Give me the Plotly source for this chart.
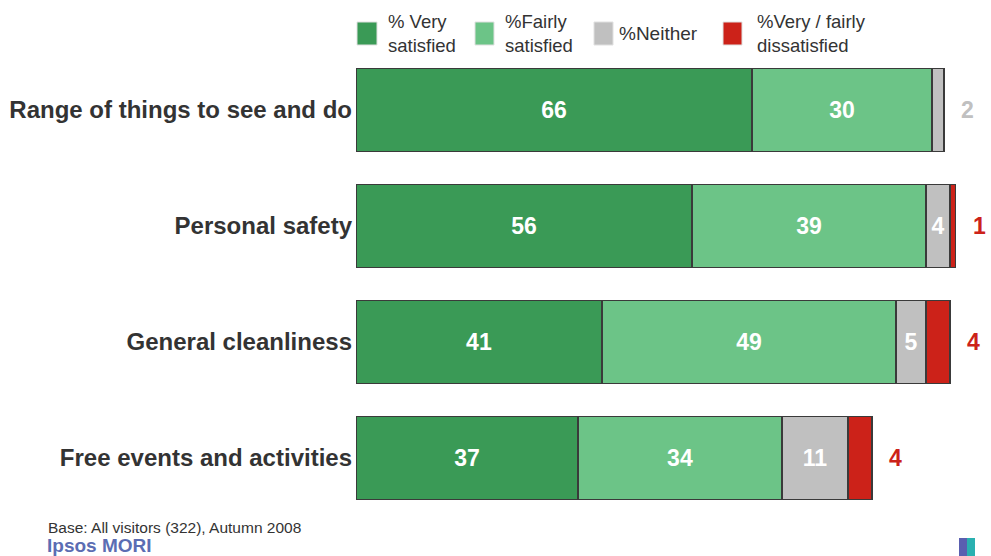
import plotly.graph_objects as go

categories = ["Range of things to see and do", "Personal safety", "General cleanliness", "Free events and activities"]
very_satisfied = [66, 56, 41, 37]
fairly_satisfied = [30, 39, 49, 34]
neither = [2, 4, 5, 11]
dissatisfied = [0, 1, 4, 4]
neither_inside_labels = ["", "4", "5", "11"]
outside_labels = ["2", "1", "4", "4"]
outside_colors = ["#c0c0c0", "#cc2219", "#cc2219", "#cc2219"]
legend_names = [["% Very", "satisfied"], ["%Fairly", "satisfied"], ["%Neither"], ["%Very / fairly", "dissatisfied"]]

colors = ["#3a9a56", "#6cc487", "#c0c0c0", "#cc2219"]
FONT = "Liberation Sans, Arial, sans-serif"

W, H = 991, 556
ML, MR, MT, MB = 356, 35, 52, 40
PW, PH = W - ML - MR, H - MT - MB

def px(x):
    return (x - ML) / PW

def py(y):
    return 1 - (y - MT) / PH

fig = go.Figure()
series = [very_satisfied, fairly_satisfied, neither, dissatisfied]
texts = [[str(v) for v in very_satisfied], [str(v) for v in fairly_satisfied], neither_inside_labels, [""] * 4]
for i, (vals, txt) in enumerate(zip(series, texts)):
    fig.add_trace(go.Bar(
        y=categories, x=vals, orientation="h", name=" ".join(legend_names[i]),
        marker=dict(color=colors[i], line=dict(color="#3a3a3a", width=1.2)),
        text=txt, textposition="inside", insidetextanchor="middle",
        textfont=dict(family=FONT, size=23, color="white", weight="bold"),
        width=0.72, showlegend=False, hoverinfo="skip", constraintext="none",
    ))

totals = [a + b + c + d for a, b, c, d in zip(very_satisfied, fairly_satisfied, neither, dissatisfied)]
for cat, tot, lab, col in zip(categories, totals, outside_labels, outside_colors):
    fig.add_annotation(x=tot, y=cat, xref="x", yref="y", text=f"<b>{lab}</b>", showarrow=False,
                       xshift=23, font=dict(family=FONT, size=23, color=col))

# Manual legend
leg_sq = [(357, 377), (475, 494), (594, 613), (723, 742)]
leg_tx = [386, 503, 617, 755]
for (x0, x1), tx, names, col in zip(leg_sq, leg_tx, legend_names, colors):
    fig.add_shape(type="rect", xref="paper", yref="paper", x0=px(x0), x1=px(x1), y0=py(45), y1=py(22),
                  fillcolor=col, line=dict(color="#e0e0e0", width=1))
    fig.add_annotation(x=px(tx), y=py(33.5), xref="paper", yref="paper", text="<br>".join(names),
                       showarrow=False, xanchor="left", yanchor="middle", align="left",
                       font=dict(family=FONT, size=19 if len(names) == 1 else 18.5, color="#333333"))

# Footer
fig.add_annotation(x=px(46), y=py(527), xref="paper", yref="paper", text="Base: All visitors (322), Autumn 2008",
                   showarrow=False, xanchor="left", yanchor="middle", font=dict(family=FONT, size=15.5, color="#333333"))
fig.add_annotation(x=px(45), y=py(545), xref="paper", yref="paper", text="<b>Ipsos MORI</b>",
                   showarrow=False, xanchor="left", yanchor="middle", font=dict(family=FONT, size=19, color="#5b6db3"))
fig.add_shape(type="rect", xref="paper", yref="paper", x0=px(959), x1=px(967), y0=py(556), y1=py(538),
              fillcolor="#5a5fb0", line=dict(width=0))
fig.add_shape(type="rect", xref="paper", yref="paper", x0=px(967), x1=px(975), y0=py(556), y1=py(538),
              fillcolor="#2ab0b0", line=dict(width=0))

fig.update_layout(
    width=W, height=H, margin=dict(l=ML, r=MR, t=MT, b=MB, autoexpand=False),
    barmode="stack", bargap=0.28,
    paper_bgcolor="white", plot_bgcolor="white",
    xaxis=dict(range=[0, 100], visible=False, fixedrange=True, automargin=False),
    yaxis=dict(autorange="reversed", showgrid=False, zeroline=False, showline=False, ticks="",
               ticklabelstandoff=3, automargin=False,
               tickfont=dict(family=FONT, size=24, color="#333333", weight="bold")),
    showlegend=False,
)

fig.write_html("out.html")
